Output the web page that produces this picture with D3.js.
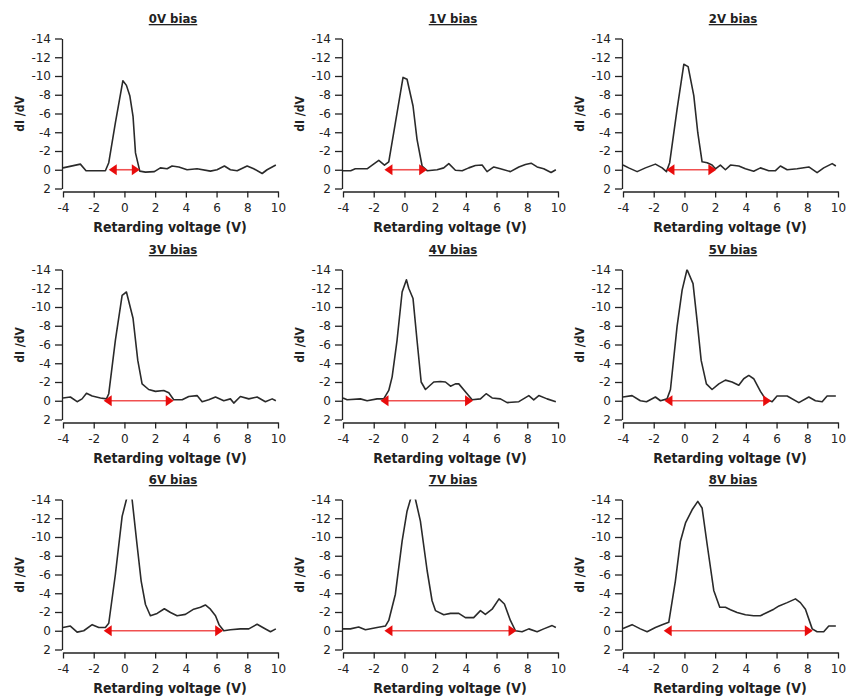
<!DOCTYPE html>
<html>
<head>
<meta charset="utf-8">
<script src="https://cdn.jsdelivr.net/npm/d3@7.9.0/dist/d3.min.js"></script>
<style>
  body { margin: 0; background: #fff; }
  svg { display: block; }
  .tick text { font-family: "DejaVu Sans", sans-serif; font-size: 12px; fill: #222; }
  .axis path, .axis line { stroke: #222; stroke-width: 1.3; }
  .ttl { font-family: "DejaVu Sans Condensed", "DejaVu Sans", sans-serif; font-weight: bold; fill: #222; }
</style>
</head>
<body>
<svg id="chart" width="849" height="699"></svg>
<script>
// panel titles
const biasLabels = ["0V bias", "1V bias", "2V bias", "3V bias", "4V bias", "5V bias", "6V bias", "7V bias", "8V bias"];

// [retarding voltage, dI/dV]
const bias0 = [[-4,-0.2],[-2.87,-0.6],[-2.5,0.1],[-1.24,0.1],[-1.02,-0.75],[-0.59,-5],[-0.1,-9.5],[0.13,-9.0],[0.35,-7.9],[0.56,-5.7],[0.72,-1.8],[1.0,0.15],[1.37,0.25],[1.95,0.2],[2.34,-0.2],[2.78,-0.1],[3.1,-0.4],[3.54,-0.3],[4.08,0],[4.73,-0.1],[5.6,0.15],[6.03,0],[6.51,-0.4],[6.9,0],[7.34,0.1],[7.99,-0.4],[8.42,-0.1],[8.97,0.4],[9.29,0],[9.86,-0.5]];
const bias1 = [[-4,0.1],[-3.5,0.1],[-3.2,-0.1],[-2.43,-0.1],[-2.1,-0.5],[-1.67,-1.0],[-1.3,-0.5],[-1.02,-0.85],[-0.59,-5],[-0.09,-9.85],[0.17,-9.65],[0.56,-6.8],[0.82,-3.25],[1.15,-0.4],[1.48,0.1],[2.13,0],[2.56,-0.2],[2.89,-0.65],[3.32,0.05],[3.76,0.1],[4.19,-0.2],[4.62,-0.45],[5.06,-0.5],[5.38,0.2],[5.82,-0.3],[6.25,-0.1],[6.9,0.2],[7.45,-0.3],[7.88,-0.55],[8.25,-0.7],[8.64,-0.3],[9.07,-0.1],[9.55,0.3],[9.86,0]];
const bias2 = [[-4,-0.5],[-3.63,-0.2],[-3.08,0.2],[-2.54,-0.2],[-1.89,-0.6],[-1.45,-0.2],[-1.17,0.2],[-0.96,-0.75],[-0.48,-6.45],[-0.04,-11.25],[0.24,-11.0],[0.61,-7.9],[0.87,-3.95],[1.15,-0.85],[1.48,-0.75],[1.8,-0.5],[2.02,-0.1],[2.34,-0.5],[2.67,0],[3.0,-0.5],[3.54,-0.4],[3.97,-0.1],[4.51,0.15],[4.95,-0.2],[5.49,0.1],[5.93,0.1],[6.25,-0.4],[6.69,0],[7.34,-0.1],[8.1,-0.3],[8.64,0.3],[9.07,-0.2],[9.62,-0.65],[9.86,-0.4]];
const bias3 = [[-4,-0.3],[-3.52,-0.4],[-3.08,0.1],[-2.76,-0.2],[-2.47,-0.8],[-2.1,-0.5],[-1.56,-0.3],[-1.17,-0.2],[-1.02,-0.75],[-0.59,-6.45],[-0.15,-11.25],[0.13,-11.6],[0.56,-8.8],[0.87,-4.3],[1.15,-1.8],[1.58,-1.2],[2.02,-1.0],[2.56,-1.1],[2.89,-0.85],[3.21,-0.1],[3.76,-0.1],[4.19,-0.45],[4.73,-0.55],[5.06,0.1],[5.49,-0.1],[5.93,-0.4],[6.47,0],[6.9,-0.2],[7.12,0.25],[7.55,-0.45],[8.1,-0.2],[8.64,-0.4],[9.18,0.1],[9.62,-0.2],[9.86,0]];
const bias4 = [[-4,-0.3],[-3.73,-0.1],[-2.87,-0.2],[-2.43,0],[-1.78,-0.2],[-1.35,-0.2],[-1.02,-1.1],[-0.8,-2.55],[-0.48,-6.45],[-0.15,-11.6],[0.13,-12.9],[0.28,-12.0],[0.56,-10.9],[0.82,-6.45],[1.09,-2.0],[1.37,-1.2],[1.91,-2.0],[2.34,-2.05],[2.67,-2.0],[3.0,-1.55],[3.32,-1.8],[3.54,-1.8],[4.08,-0.75],[4.41,-0.1],[4.95,-0.2],[5.32,-0.75],[5.71,-0.3],[6.25,-0.2],[6.69,0.2],[7.45,0.1],[8.1,-0.55],[8.42,-0.1],[8.75,-0.55],[9.29,-0.2],[9.86,0.1]];
const bias5 = [[-4,-0.4],[-3.41,-0.55],[-2.87,0],[-2.47,0.1],[-1.89,-0.4],[-1.56,0],[-1.13,-0.2],[-0.91,-1.2],[-0.48,-7.9],[-0.15,-11.8],[0.17,-14.0],[0.56,-12.5],[0.82,-8.6],[1.09,-4.3],[1.43,-1.8],[1.8,-1.2],[2.24,-1.8],[2.67,-2.2],[3.1,-2.0],[3.54,-1.65],[3.86,-2.35],[4.19,-2.7],[4.51,-2.35],[4.95,-1.0],[5.27,-0.2],[5.71,0.1],[6.03,-0.5],[6.69,-0.5],[7.45,0.2],[8.1,-0.4],[8.53,0],[8.97,0.1],[9.29,-0.5],[9.86,-0.5]];
const bias6 = [[-4,-0.35],[-3.52,-0.5],[-3.08,0.15],[-2.65,0],[-2.1,-0.65],[-1.67,-0.35],[-1.24,-0.35],[-1.02,-0.8],[-0.59,-6.0],[-0.15,-12.2],[0.13,-14.0],[0.3,-15.0],[0.5,-14.0],[0.82,-9.2],[1.09,-5.3],[1.37,-2.8],[1.69,-1.6],[2.13,-1.85],[2.6,-2.35],[3.0,-1.95],[3.43,-1.6],[3.97,-1.75],[4.51,-2.3],[4.95,-2.5],[5.27,-2.75],[5.6,-2.3],[5.93,-1.6],[6.16,-0.65],[6.47,0],[6.9,-0.1],[7.55,-0.2],[8.1,-0.2],[8.64,-0.7],[9.07,-0.3],[9.51,0.1],[9.86,-0.2]];
const bias7 = [[-4,-0.2],[-3.52,-0.2],[-2.98,-0.4],[-2.54,-0.1],[-1.78,-0.35],[-1.24,-0.5],[-1.02,-1.1],[-0.59,-3.9],[-0.15,-9.55],[0.17,-12.75],[0.39,-14.0],[0.56,-14.6],[0.72,-14.0],[1.04,-11.7],[1.48,-6.4],[1.8,-3.2],[2.02,-2.15],[2.56,-1.7],[3.0,-1.85],[3.54,-1.85],[3.97,-1.4],[4.51,-1.4],[4.95,-2.15],[5.27,-1.75],[5.71,-2.3],[6.16,-3.4],[6.51,-2.85],[6.9,-1.1],[7.23,0],[7.66,0.1],[8.1,-0.2],[8.64,0.1],[9.07,-0.2],[9.62,-0.55],[9.86,-0.35]];
const bias8 = [[-4,-0.25],[-3.41,-0.65],[-2.87,-0.2],[-2.43,0.1],[-1.89,-0.35],[-1.45,-0.65],[-1.02,-0.9],[-0.59,-5.3],[-0.26,-9.55],[0.07,-11.5],[0.5,-12.9],[0.87,-13.8],[1.15,-13.1],[1.48,-9.2],[1.91,-4.3],[2.3,-2.5],[2.67,-2.5],[3.0,-2.25],[3.43,-1.95],[3.97,-1.7],[4.51,-1.6],[4.95,-1.6],[5.38,-1.95],[5.82,-2.3],[6.16,-2.65],[6.69,-3.0],[7.23,-3.4],[7.55,-3.0],[7.88,-2.3],[8.32,-0.2],[8.64,0.1],[9.07,0.1],[9.4,-0.5],[9.86,-0.5]];
const series = [bias0, bias1, bias2, bias3, bias4, bias5, bias6, bias7, bias8];

// red double arrows (start / end voltage, drawn at dI/dV = 0)
const arrowStart = [-1.02, -1.3, -1.17, -1.35, -1.56, -1.3, -1.35, -1.3, -1.35];
const arrowEnd = [1.0, 1.48, 2.08, 3.21, 4.47, 5.65, 6.43, 7.3, 8.36];

const xTicks = [-4, -2, 0, 2, 4, 6, 8, 10];
const yTicks = [-14, -12, -10, -8, -6, -4, -2, 0, 2];

const colX = [0, 280, 560];
const rowY = [0, 231, 461];

const svg = d3.select('#chart');

const defs = svg.append('defs');
defs.append('clipPath').attr('id', 'plotclip')
    .append('rect').attr('x', 60).attr('y', 38.5).attr('width', 222).attr('height', 160);

const x = d3.scaleLinear().domain([-4, 10]).range([63, 278]);
const y = d3.scaleLinear().domain([2, -14]).range([188.5, 38.5]);

const line = d3.line().x(d => x(d[0])).y(d => y(d[1]));

// plain hyphen for negatives, like the original
const fmt = d => String(d);

series.forEach((data, i) => {
    let g = svg.append('g')
        .attr('transform', `translate(${colX[i % 3]},${rowY[Math.floor(i / 3)]})`);

    // title
    g.append('text').attr('class', 'ttl')
        .attr('x', 173).attr('y', 23)
        .attr('text-anchor', 'middle')
        .attr('font-size', 13)
        .attr('text-decoration', 'underline')
        .text(biasLabels[i]);

    // axes
    g.append('g').attr('class', 'axis')
        .attr('transform', 'translate(62,0)')
        .call(d3.axisLeft(y).tickValues(yTicks).tickFormat(fmt).tickSize(7).tickSizeOuter(0).tickPadding(4));

    g.append('g').attr('class', 'axis')
        .attr('transform', 'translate(0,191.5)')
        .call(d3.axisBottom(x).tickValues(xTicks).tickFormat(fmt).tickSize(6).tickSizeOuter(0).tickPadding(6));

    g.append('text').attr('class', 'ttl')
        .attr('x', 170).attr('y', 232)
        .attr('text-anchor', 'middle')
        .attr('font-size', 14)
        .text('Retarding voltage (V)');

    g.append('text').attr('class', 'ttl')
        .attr('transform', 'translate(24,114) rotate(-90)')
        .attr('text-anchor', 'middle')
        .attr('font-size', 12)
        .text('dI /dV');

    // curve
    g.append('path')
        .datum(data)
        .attr('clip-path', 'url(#plotclip)')
        .attr('d', line)
        .attr('fill', 'none')
        .attr('stroke', '#2a2a2a')
        .attr('stroke-width', 1.6)
        .attr('stroke-linejoin', 'round');

    // arrow
    let x0 = x(arrowStart[i]), x1 = x(arrowEnd[i]), yy = y(0);
    g.append('line')
        .attr('x1', x0 + 6).attr('x2', x1 - 6)
        .attr('y1', yy).attr('y2', yy)
        .attr('stroke', '#f05050')
        .attr('stroke-width', 1.6);
    g.append('path')
        .attr('d', `M${x0},${yy} L${x0 + 8},${yy - 5.5} L${x0 + 8},${yy + 5.5} Z`)
        .attr('fill', '#e80c0c');
    g.append('path')
        .attr('d', `M${x1},${yy} L${x1 - 8},${yy - 5.5} L${x1 - 8},${yy + 5.5} Z`)
        .attr('fill', '#e80c0c');
});
</script>
</body>
</html>
